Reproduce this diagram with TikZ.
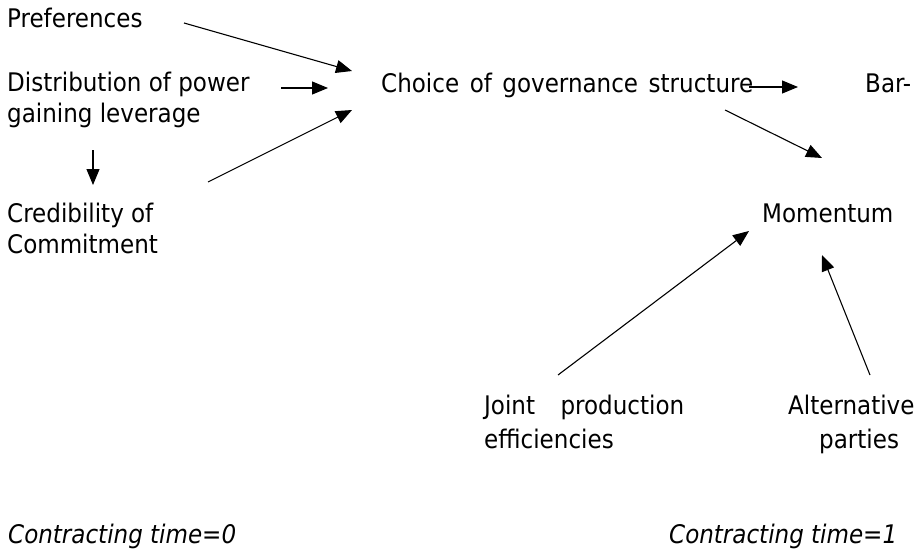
\documentclass[tikz,border=0pt]{standalone}
\usepackage{fontspec}
\setmainfont{DejaVu Sans Condensed}
\usetikzlibrary{arrows.meta}

\begin{document}
\begin{tikzpicture}[
  x=1pt, y=-1pt,
  every node/.style={inner sep=0pt, font=\fontsize{25.6}{31}\selectfont},
  txt/.style={anchor=base west},
  twoline/.style={txt, align=left},
  wideline/.style={twoline, font=\fontsize{25.6}{34}\selectfont},
  note/.style={txt, font=\fontsize{25.6}{31}\selectfont\itshape},
  link/.style={-{Triangle[length=16pt,width=13pt]}, line width=1.1pt}
]
\useasboundingbox (0,0) rectangle (922,551);

% Left column (time 0)
\node[txt] (pref) at (7,28) {Preferences};
\node[twoline] (power) at (7,122) {Distribution of power\\gaining leverage};
\node[twoline] (cred) at (7,253) {Credibility of\\Commitment};

% Middle and right
\node[txt] (choice) at (381,93) {\makebox[372pt][s]{Choice of governance structure}};
\node[txt] (barg) at (865,93) {Bar-};
\node[txt] (mom) at (762,222) {Momentum};
\node[wideline] (joint) at (484,448) {\makebox[200pt][s]{Joint production}\\efficiencies};
\node[wideline] (alt) at (788,448) {Alternative\\\hspace*{31pt}parties};

% Contracting times
\node[note] (t0) at (8,543) {Contracting time=0};
\node[note] (t1) at (669,543) {Contracting time=1};

% Arrow ends
\coordinate (prefA) at (184,23);
\coordinate (prefB) at (352,71);
\coordinate (powA) at (281,88);
\coordinate (powB) at (328,88);
\coordinate (downA) at (93,150);
\coordinate (downB) at (93,185);
\coordinate (credA) at (208,182);
\coordinate (credB) at (352,110);
\coordinate (chA) at (749,87);
\coordinate (chB) at (798,87);
\coordinate (momA) at (725,110);
\coordinate (momB) at (822,158);
\coordinate (jointA) at (558,375);
\coordinate (jointB) at (749,231);
\coordinate (altA) at (870,375);
\coordinate (altB) at (822,255);

% Arrows
\draw[link] (prefA) -- (prefB);
\draw[link] (powA) -- (powB);
\draw[link] (downA) -- (downB);
\draw[link] (credA) -- (credB);
\draw[link] (chA) -- (chB);
\draw[link] (momA) -- (momB);
\draw[link] (jointA) -- (jointB);
\draw[link] (altA) -- (altB);

\end{tikzpicture}
\end{document}
